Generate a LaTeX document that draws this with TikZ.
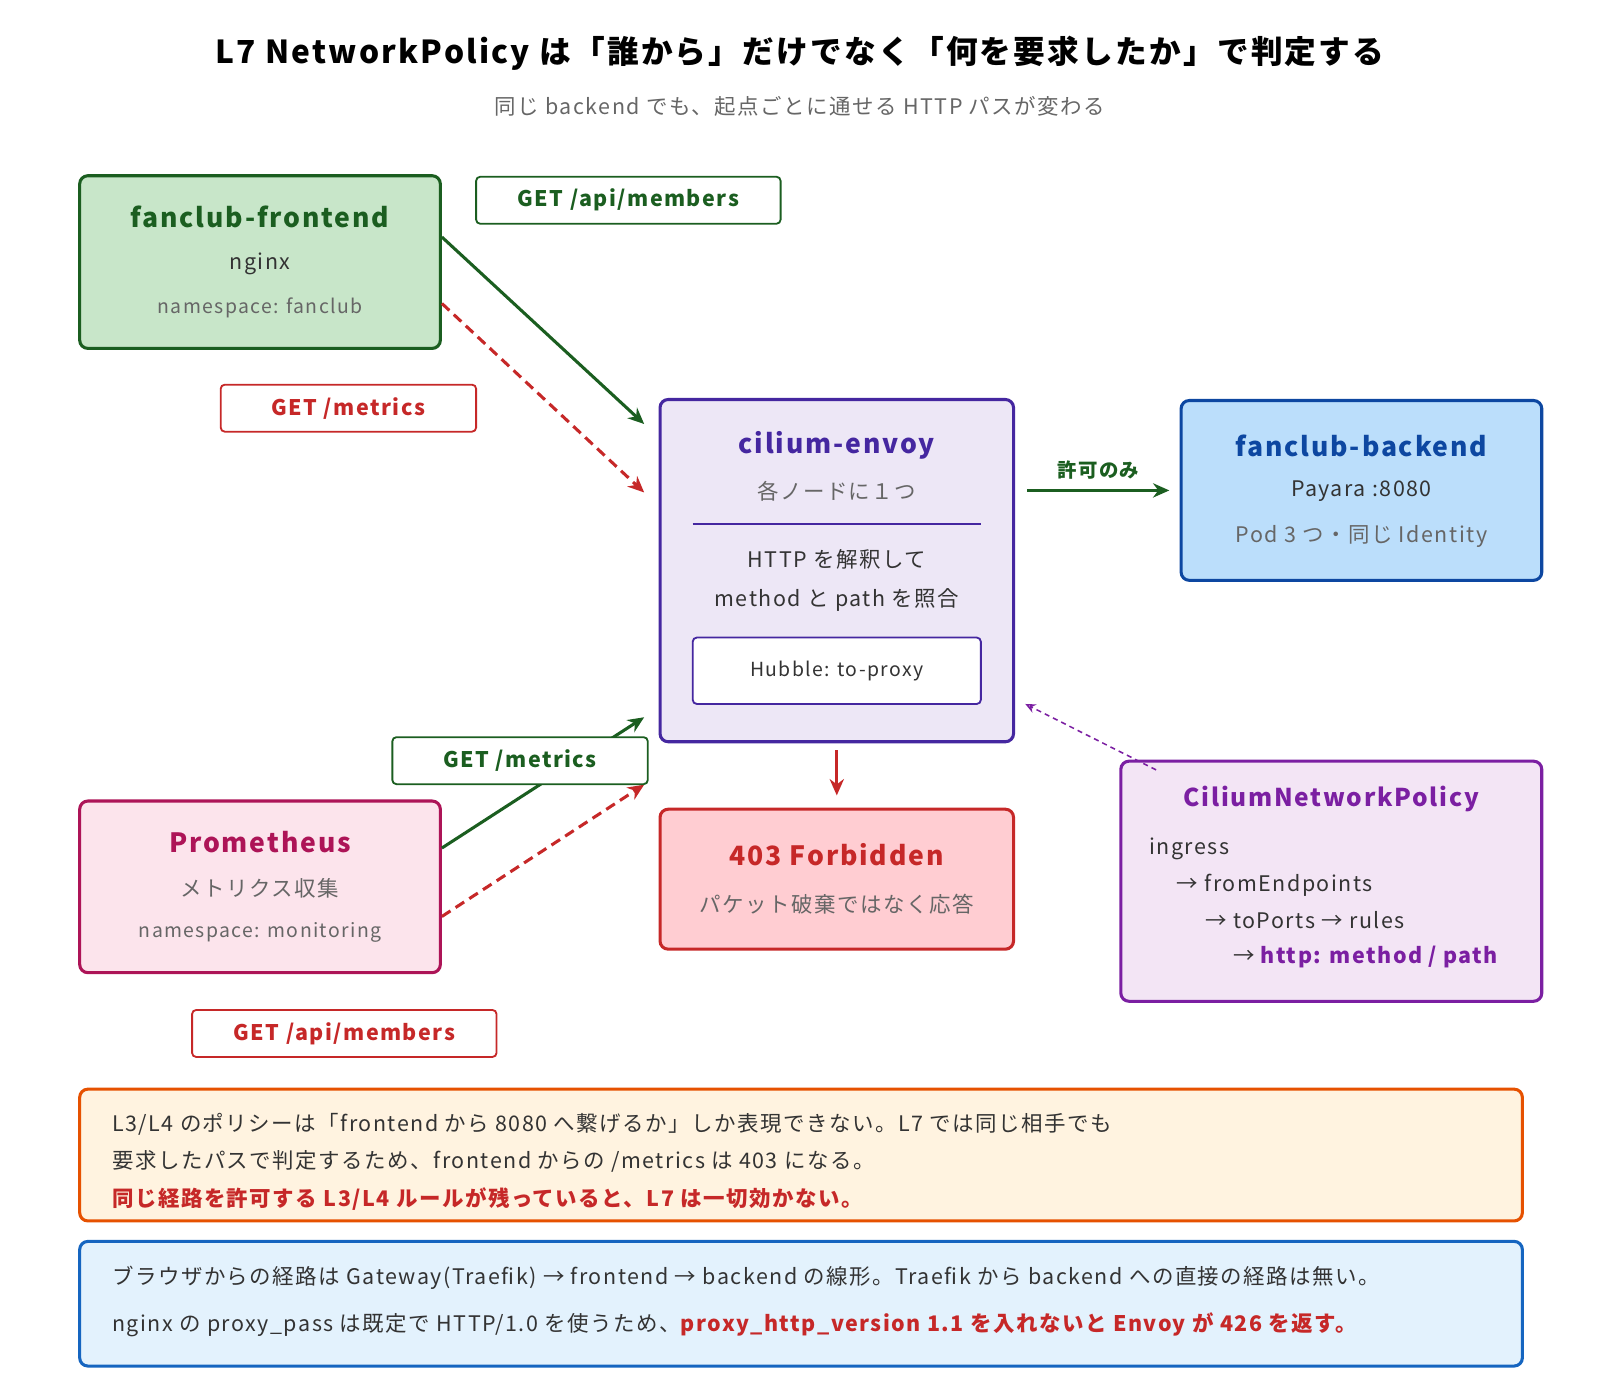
\documentclass[tikz,border=0pt]{standalone}
\usepackage{fontspec}
\setmainfont{Noto Sans CJK JP}[LetterSpace=7]
\usetikzlibrary{arrows.meta}
\definecolor{grn}{HTML}{1B5E20}
\definecolor{grnfill}{HTML}{C8E6C9}
\definecolor{redd}{HTML}{C62828}
\definecolor{redfill}{HTML}{FFCDD2}
\definecolor{prp}{HTML}{4527A0}
\definecolor{prpfill}{HTML}{EDE7F6}
\definecolor{blu}{HTML}{0D47A1}
\definecolor{blufill}{HTML}{BBDEFB}
\definecolor{pnk}{HTML}{AD1457}
\definecolor{pnkfill}{HTML}{FCE4EC}
\definecolor{vio}{HTML}{7B1FA2}
\definecolor{viofill}{HTML}{F3E5F5}
\definecolor{org}{HTML}{E65100}
\definecolor{orgfill}{HTML}{FFF3E0}
\definecolor{nblu}{HTML}{1565C0}
\definecolor{nblufill}{HTML}{E3F2FD}
\definecolor{txt}{HTML}{333333}
\definecolor{sub}{HTML}{666666}
\tikzset{every picture/.style={line width=3pt}}
\tikzset{
  box/.style={draw, rounded corners=8pt, line width=3pt},
  tag/.style={draw, rounded corners=4pt, line width=1.8pt, fill=white, minimum height=46pt, font=\fontsize{21}{25}\selectfont\bfseries},
  txt/.style={font=\fontsize{21}{25}\selectfont, text=txt},
  hd/.style={font=\fontsize{26}{31}\selectfont\bfseries},
  go/.style={-{Stealth[length=16pt,width=14pt,open]}, line width=3pt, grn},
  no/.style={-{Stealth[length=16pt,width=14pt,open]}, line width=3pt, redd, dash pattern=on 10pt off 6pt},
}
\begin{document}
\begin{tikzpicture}[x=1pt,y=-1pt]
\useasboundingbox (0,0) rectangle (1566,1370);
% title
\node (title) at (783,52) {\fontsize{31}{37}\selectfont\bfseries L7 NetworkPolicy は「誰から」だけでなく「何を要求したか」で判定する};
\node[txt, text=sub] (subt) at (783,104) {同じ backend でも、起点ごとに通せる HTTP パスが変わる};
% boxes
\node[box, draw=grn, fill=grnfill, minimum width=353pt, minimum height=169pt] (fe) at (254.5,256.5) {};
\node[hd, text=grn] at (254.5,212) {fanclub-frontend};
\node[txt] at (254.5,258) {nginx};
\node[txt, text=sub, font=\fontsize{19}{23}\selectfont] at (254.5,301) {namespace: fanclub};
\node[box, draw=prp, fill=prpfill, minimum width=346pt, minimum height=335pt] (env) at (819,558.5) {};
\node[hd, text=prp] at (819,436) {cilium-envoy};
\node[txt, text=sub] at (819,481) {各ノードに１つ};
\draw[prp, line width=1.8pt] (678,513) -- (960,513);
\node[txt] at (819,547) {HTTP を解釈して};
\node[txt] at (819,587) {method と path を照合};
\node[draw=prp, line width=1.8pt, rounded corners=4pt, fill=white, minimum width=282pt, minimum height=65pt, txt, font=\fontsize{19}{23}\selectfont] (hub) at (819,656.5) {Hubble: to-proxy};
\node[box, draw=blu, fill=blufill, minimum width=353pt, minimum height=176pt] (be) at (1332.5,480) {};
\node[hd, text=blu] at (1332.5,436) {fanclub-backend};
\node[txt] at (1332.5,481) {Payara :8080};
\node[txt, text=sub] at (1332.5,525) {Pod 3 つ・同じ Identity};
\node[box, draw=redd, fill=redfill, minimum width=346pt, minimum height=137pt] (deny) at (819,860.5) {};
\node[hd, text=redd] at (819,836) {403 Forbidden};
\node[txt, text=sub] at (819,885) {パケット破棄ではなく応答};
\node[box, draw=pnk, fill=pnkfill, minimum width=353pt, minimum height=168pt] (prom) at (254.5,868) {};
\node[hd, text=pnk] at (254.5,824) {Prometheus};
\node[txt, text=sub] at (254.5,869) {メトリクス収集};
\node[txt, text=sub, font=\fontsize{19}{23}\selectfont] at (254.5,913) {namespace: monitoring};
\node[box, draw=vio, fill=viofill, minimum width=412pt, minimum height=235pt] (cnp) at (1303,862.5) {};
\node[hd, text=vio, font=\fontsize{24}{29}\selectfont\bfseries] at (1303,782) {CiliumNetworkPolicy};
\node[txt, anchor=west] at (1120,831) {ingress};
\node[txt, anchor=west] at (1147,866) {→ fromEndpoints};
\node[txt, anchor=west] at (1175,901) {→ toPorts → rules};
\node[txt, anchor=west] at (1202,937) {→ \textcolor{vio}{\bfseries http: method / path}};
% connectors
\draw[go] ([yshift=24.5pt]fe.east) -- ([xshift=-14pt,yshift=143.5pt]env.west);
\draw[no] ([yshift=-40.5pt]fe.east) -- ([xshift=-14pt,yshift=76.5pt]env.west);
\draw[go] ([yshift=38pt]prom.east) -- ([xshift=-14pt,yshift=-143.5pt]env.west);
\draw[no] ([yshift=-29pt]prom.east) -- ([xshift=-14pt,yshift=-209.5pt]env.west);
\draw[go] ([xshift=12pt,yshift=78.5pt]env.east) -- node[above=6pt, font=\fontsize{19}{23}\selectfont\bfseries] {許可のみ} ([xshift=-10pt]be.west);
\draw[redd, -{Stealth[length=16pt,width=14pt,open]}] ([yshift=-7pt]env.south) -- ([yshift=12pt]deny.north);
\draw[vio, line width=1.5pt, dash pattern=on 5pt off 4pt, -{Stealth[length=10pt,width=9pt,open]}] ([xshift=36pt,yshift=-10pt]cnp.north west) -- ([xshift=10pt,yshift=-130.5pt]env.east);
% tags
\node[tag, draw=grn, text=grn, minimum width=298pt] (t1) at (615,196) {GET /api/members};
\node[tag, draw=redd, text=redd, minimum width=250pt] (t2) at (341,399.5) {GET /metrics};
\node[tag, draw=grn, text=grn, minimum width=250pt] (t3) at (509,744.5) {GET /metrics};
\node[tag, draw=redd, text=redd, minimum width=298pt] (t4) at (337,1011.5) {GET /api/members};
% notes
\node[box, draw=org, fill=orgfill, minimum width=1412pt, minimum height=129pt] (n1) at (784,1130.5) {};
\node[txt, anchor=west] at (105,1100) {L3/L4 のポリシーは「frontend から 8080 へ繋げるか」しか表現できない。L7 では同じ相手でも};
\node[txt, anchor=west] at (105,1137) {要求したパスで判定するため、frontend からの /metrics は 403 になる。};
\node[txt, anchor=west, text=redd, font=\fontsize{21}{25}\selectfont\bfseries] at (105,1174) {同じ経路を許可する L3/L4 ルールが残っていると、L7 は一切効かない。};
\node[box, draw=nblu, fill=nblufill, minimum width=1412pt, minimum height=122pt] (n2) at (784,1276) {};
\node[txt, anchor=west] at (105,1251) {ブラウザからの経路は Gateway(Traefik) → frontend → backend の線形。Traefik から backend への直接の経路は無い。};
\node[txt, anchor=west] at (105,1297) {nginx の proxy\_pass は既定で HTTP/1.0 を使うため、\textcolor{redd}{\bfseries proxy\_http\_version 1.1 を入れないと Envoy が 426 を返す。}};
\end{tikzpicture}
\end{document}
